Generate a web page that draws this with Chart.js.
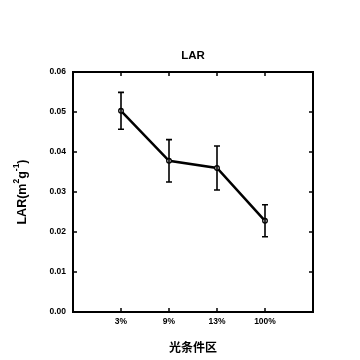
<!DOCTYPE html>
<html>
<head>
<meta charset="utf-8">
<script src="https://cdn.jsdelivr.net/npm/chart.js@4/dist/chart.umd.min.js"></script>
<style>
html,body{margin:0;padding:0;background:#fff;}
#wrap{width:360px;height:360px;}
</style>
</head>
<body>
<div id="wrap"><canvas id="c" width="360" height="360"></canvas></div>
<script>
const categories = ['3%', '9%', '13%', '100%'];
const larMeans = [0.0503, 0.0378, 0.0360, 0.0228];
const larErrors = [0.0046, 0.0053, 0.0055, 0.0040];
const yTicks = [0, 0.01, 0.02, 0.03, 0.04, 0.05, 0.06];
// y axis title pieces: [text, isSuperscript]
const yTitleParts = [['LAR(m', false], ['2', true], ['g', false], ['-1', true], [')', false]];

const FONT = "'Liberation Sans', Arial, Helvetica, sans-serif";

const framePlugin = {
  id: 'frame',
  afterDatasetsDraw(chart) {
    const {ctx, chartArea: a, scales: {x, y}} = chart;
    ctx.save();
    ctx.strokeStyle = '#000';
    ctx.lineWidth = 1.6;
    larMeans.forEach((m, i) => {
      const px = x.getPixelForValue(i + 1);
      const top = y.getPixelForValue(m + larErrors[i]);
      const bot = y.getPixelForValue(m - larErrors[i]);
      ctx.beginPath();
      ctx.moveTo(px, top); ctx.lineTo(px, bot);
      ctx.moveTo(px - 3, top); ctx.lineTo(px + 3, top);
      ctx.moveTo(px - 3, bot); ctx.lineTo(px + 3, bot);
      ctx.stroke();
    });
    ctx.lineWidth = 2;
    ctx.strokeRect(a.left, a.top, a.right - a.left, a.bottom - a.top);
    ctx.lineWidth = 1.5;
    const tl = 4;
    ctx.beginPath();
    yTicks.forEach(v => {
      const py = y.getPixelForValue(v);
      ctx.moveTo(a.left, py); ctx.lineTo(a.left + tl, py);
      ctx.moveTo(a.right, py); ctx.lineTo(a.right - tl, py);
    });
    categories.forEach((c, i) => {
      const px = x.getPixelForValue(i + 1);
      ctx.moveTo(px, a.bottom); ctx.lineTo(px, a.bottom - tl);
      ctx.moveTo(px, a.top); ctx.lineTo(px, a.top + tl);
    });
    ctx.stroke();

    // y axis title with superscripts
    const big = "bold 12.5px " + FONT;
    const small = "bold 8.5px " + FONT;
    let total = 0;
    yTitleParts.forEach(([t, sup]) => { ctx.font = sup ? small : big; total += ctx.measureText(t).width; });
    const cy = (a.top + a.bottom) / 2;
    ctx.translate(26, cy);
    ctx.rotate(-Math.PI / 2);
    ctx.fillStyle = '#000';
    ctx.textBaseline = 'alphabetic';
    ctx.textAlign = 'left';
    let cx = -total / 2;
    yTitleParts.forEach(([t, sup]) => {
      ctx.font = sup ? small : big;
      ctx.fillText(t, cx, sup ? -7 : 0);
      cx += ctx.measureText(t).width;
    });
    ctx.restore();
  }
};

new Chart(document.getElementById('c'), {
  type: 'line',
  data: {
    datasets: [{
      label: 'LAR',
      data: larMeans.map((v, i) => ({x: i + 1, y: v})),
      borderColor: '#000',
      borderWidth: 2.5,
      pointRadius: 2.3,
      pointBorderWidth: 1.3,
      pointBackgroundColor: '#fff',
      pointBorderColor: '#000',
      tension: 0,
      fill: false
    }]
  },
  options: {
    responsive: false,
    animation: false,
    devicePixelRatio: 1,
    layout: {padding: {left: 0, right: 47, top: 0, bottom: 0}},
    plugins: {
      legend: {display: false},
      tooltip: {enabled: false},
      title: {display: false}
    },
    scales: {
      x: {
        type: 'linear',
        min: 0, max: 5,
        afterBuildTicks: s => { s.ticks = categories.map((c, i) => ({value: i + 1})); },
        afterFit: s => { s.height = 48; },
        grid: {display: false, drawTicks: false},
        border: {display: false},
        ticks: {
          color: '#000',
          padding: 5,
          autoSkip: false,
          maxRotation: 0,
          font: {family: FONT, size: 8.5, weight: 'bold'},
          callback: v => categories[v - 1] ?? ''
        },
        title: {
          display: true,
          text: '光条件区',
          color: '#000',
          font: {family: "'Noto Sans CJK SC', sans-serif", size: 12, weight: 'bold'},
          padding: {top: 0, bottom: 5}
        }
      },
      xTop: {
        type: 'linear',
        position: 'top',
        min: 0, max: 5,
        afterFit: s => { s.height = 72; },
        grid: {display: false, drawTicks: false},
        border: {display: false},
        ticks: {display: false},
        title: {
          display: true,
          text: 'LAR',
          color: '#000',
          font: {family: FONT, size: 11.5, weight: 'bold'},
          padding: {top: 49, bottom: 0}
        }
      },
      y: {
        min: 0, max: 0.06,
        afterBuildTicks: s => { s.ticks = yTicks.map(v => ({value: v})); },
        afterFit: s => { s.width = 73; },
        grid: {display: false, drawTicks: false},
        border: {display: false},
        ticks: {
          color: '#000',
          padding: 7,
          font: {family: FONT, size: 8.5, weight: 'bold'},
          callback: v => v.toFixed(2)
        },
        title: {display: false}
      }
    }
  },
  plugins: [framePlugin]
});
</script>
</body>
</html>
